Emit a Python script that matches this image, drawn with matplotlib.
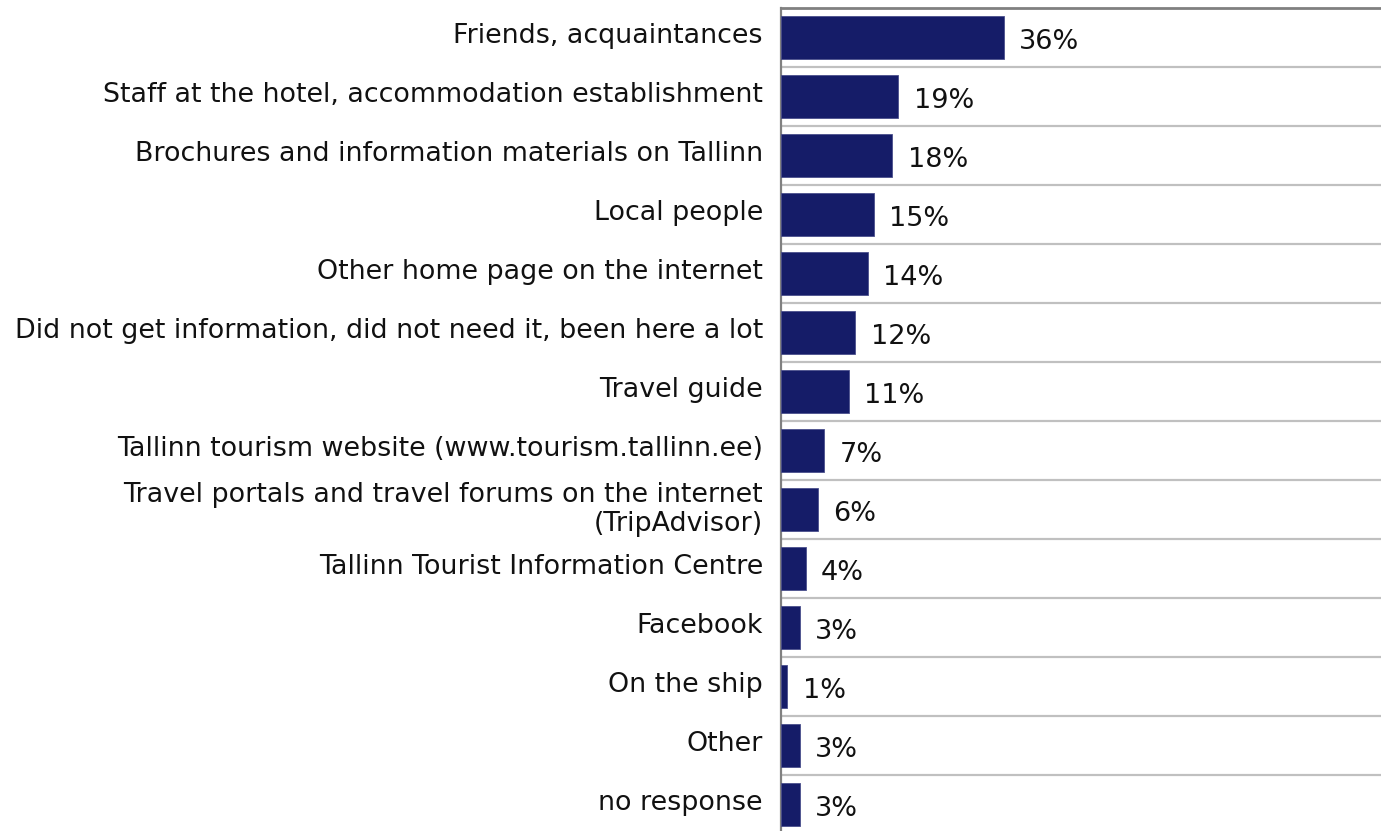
import matplotlib.pyplot as plt
import matplotlib.transforms as mtransforms

# Sources of information about Tallinn (share of respondents, %)
categories = [
    "Friends, acquaintances",
    "Staff at the hotel, accommodation establishment",
    "Brochures and information materials on Tallinn",
    "Local people",
    "Other home page on the internet",
    "Did not get information, did not need it, been here a lot",
    "Travel guide",
    "Tallinn tourism website (www.tourism.tallinn.ee)",
    "Travel portals and travel forums on the internet\n(TripAdvisor)",
    "Tallinn Tourist Information Centre",
    "Facebook",
    "On the ship",
    "Other",
    "no response",
]
values = [36, 19, 18, 15, 14, 12, 11, 7, 6, 4, 3, 1, 3, 3]

plt.rcParams['font.family'] = ['DejaVu Sans']

fig = plt.figure(figsize=(13.81, 8.31), dpi=100)
ax = fig.add_axes([0.5655, -0.0036, 0.4345, 0.994])

n = len(categories)
ypos = list(range(n))
ax.barh(ypos, values, height=0.74, color='#151c68', edgecolor='#4a4f8c',
        linewidth=0.6, zorder=3)

for y, v in zip(ypos, values):
    ax.text(v + 2.5, y + 0.07, f"{v}%", ha='left', va='center',
            fontsize=19.5, color='#111111')

ax.set_ylim(n - 0.5, -0.5)
ax.set_xlim(0, 97)

# separators between categories
for b in range(1, n):
    ax.axhline(b - 0.5, color='#c0c0c0', linewidth=1.6, zorder=1)

ax.set_yticks(ypos)
ax.set_yticklabels(categories, fontsize=19.4, color='#111111',
                   linespacing=1.15)
ax.tick_params(axis='y', length=0, pad=13)
ax.set_xticks([])

# lift category labels a little above the bar centres
lift = mtransforms.ScaledTranslation(0, 3 / 72, fig.dpi_scale_trans)
for lbl in ax.get_yticklabels():
    lbl.set_transform(lbl.get_transform() + lift)

for side in ['right', 'bottom']:
    ax.spines[side].set_visible(False)
ax.spines['top'].set_color('#808080')
ax.spines['top'].set_linewidth(2)
ax.spines['left'].set_color('#808080')
ax.spines['left'].set_linewidth(1.6)

fig.savefig('out.png', dpi=100)
